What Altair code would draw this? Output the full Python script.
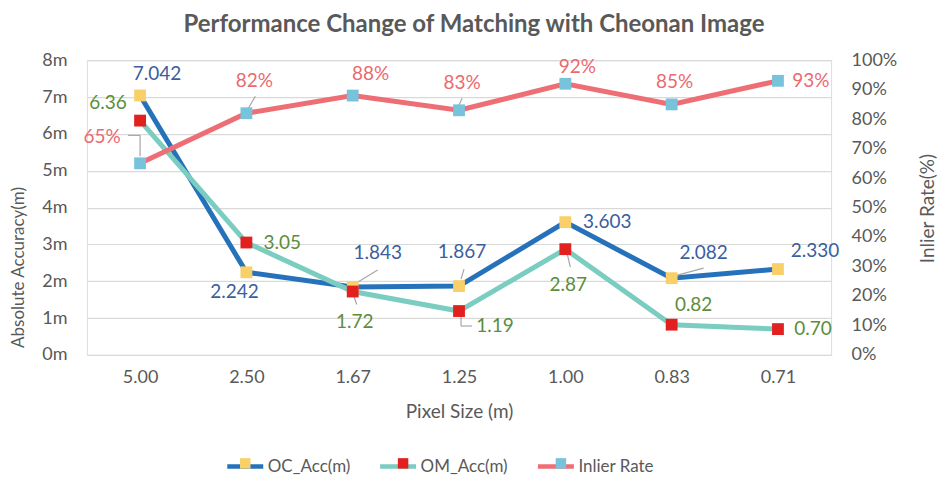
import altair as alt
import pandas as pd

# ---------------- data ----------------
categories = ["5.00", "2.50", "1.67", "1.25", "1.00", "0.83", "0.71"]
oc_acc = [7.042, 2.242, 1.843, 1.867, 3.603, 2.082, 2.330]
om_acc = [6.36, 3.05, 1.72, 1.19, 2.87, 0.82, 0.70]
inlier_rate = [65, 82, 88, 83, 92, 85, 93]
series_names = ["OC_Acc(m)", "OM_Acc(m)", "Inlier Rate"]
left_ticks = [0, 1, 2, 3, 4, 5, 6, 7, 8]
right_ticks = [0, 10, 20, 30, 40, 50, 60, 70, 80, 90, 100]

# ---------------- style ----------------
line_colors = ["#2672BA", "#7ACDC0", "#EE6E76"]
marker_colors = ["#F9CF68", "#E2201F", "#76C3DB"]
label_colors = ["#3A5EA0", "#5B8E3A", "#EA6A6F"]
FONT = "Lato"
GREY = "#595959"
LEADER = "#A6A6A6"

# data-label pixel offsets (dx, dy) per point
oc_off = [(17, -21), (-12, 20), (25, -34), (3, -34), (42, 0), (32, -25), (37, -18)]
om_off = [(-32, -18), (36, 0), (2, 31), (36, 15), (3, 36), (22, -20), (35, 0)]
in_off = [(-38, -26), (8, -32), (18, -22), (3, -27), (12, -17), (3, -22), (33, 0)]

# leader-line segments: (series index, point index, x1, y1, x2, y2) in px relative to the marker
leaders = [
    (2, 0, -12, -28, 0, -28), (2, 0, 0, -28, 0, -7),
    (2, 1, 2, -5, 9, -17),
    (0, 2, 2, -3, 25, -17),
    (1, 2, 1, 4, 4, 13),
    (0, 3, 2, -7, 5, -17),
    (1, 3, 2, 6, 2, 15), (1, 3, 2, 15, 13, 15),
    (2, 3, 0, -5, 3, -12),
    (1, 4, 2, 5, 5, 18),
    (0, 5, 2, -2, 32, -10),
]

acc = pd.DataFrame({
    "cat": categories * 2,
    "series": [series_names[0]] * 7 + [series_names[1]] * 7,
    "value": oc_acc + om_acc,
    "label": [f"{v:.3f}" for v in oc_acc] + [f"{v:.2f}" for v in om_acc],
    "idx": list(range(7)) * 2,
})
rate = pd.DataFrame({
    "cat": categories,
    "series": [series_names[2]] * 7,
    "value": inlier_rate,
    "label": [f"{v}%" for v in inlier_rate],
    "idx": list(range(7)),
})

W, H = 745, 295

x_enc = alt.X(
    "cat:N", sort=categories,
    scale=alt.Scale(type="point", padding=0.5),
    axis=alt.Axis(title="Pixel Size (m)", domain=False, ticks=False, grid=False,
                  labelFont=FONT, labelFontSize=18, labelColor=GREY, labelPadding=14,
                  labelAngle=0, titleFont=FONT, titleFontSize=19, titleColor=GREY,
                  titleFontWeight="normal", titleY=57, titleBaseline="middle"),
)

yl_scale = alt.Scale(domain=[0, 8], nice=False, zero=True)
yr_scale = alt.Scale(domain=[0, 100], nice=False, zero=True)

yl_axis = alt.Axis(title="Absolute Accuracy(m)", values=left_ticks, labelExpr="datum.value + 'm'",
                   domain=False, ticks=False, grid=True, gridColor="#D9D9D9", gridWidth=1.2,
                   labelFont=FONT, labelFontSize=18, labelColor=GREY, labelPadding=20,
                   titleFont=FONT, titleFontSize=17, titleColor=GREY, titleFontWeight="normal",
                   titleX=-68, titleY=207, titleAngle=270, titleAlign="center", titleBaseline="middle")
yr_axis = alt.Axis(title="Inlier Rate(%)", orient="right", values=right_ticks,
                   labelExpr="datum.value + '%'", domain=False, ticks=False, grid=False,
                   labelFont=FONT, labelFontSize=18, labelColor=GREY, labelPadding=20,
                   titleFont=FONT, titleFontSize=19, titleColor=GREY, titleFontWeight="normal",
                   titleX=96, titleY=148, titleAngle=270, titleAlign="center", titleBaseline="middle")

line_legend = alt.Legend(title=None, orient="none", legendX=138, legendY=386, direction="horizontal",
                         symbolType="stroke", symbolSize=1296, symbolStrokeWidth=4.5,
                         labelFont=FONT, labelFontSize=17, labelColor=GREY, labelOffset=2,
                         columnPadding=20, padding=0)
fill_legend = alt.Legend(title=None, orient="none", legendX=153, legendY=398, direction="horizontal",
                         symbolType="square", symbolSize=110, symbolStrokeWidth=0,
                         labelFontSize=1, labelOffset=0, labelExpr="''",
                         columnPadding=147, padding=0, symbolOpacity=1)

marker_domain = ["#" + s for s in series_names]
color_enc = alt.Color("series:N", scale=alt.Scale(domain=series_names, range=line_colors), legend=line_legend)
fill_enc = alt.Fill("marker:N", scale=alt.Scale(domain=marker_domain, range=marker_colors), legend=fill_legend)

left_lines = alt.Chart(acc).mark_line(strokeWidth=5).encode(
    x=x_enc, y=alt.Y("value:Q", scale=yl_scale, axis=yl_axis), color=color_enc, detail="series:N")
right_line = alt.Chart(rate).mark_line(strokeWidth=5).encode(
    x=x_enc, y=alt.Y("value:Q", scale=yr_scale, axis=yr_axis), color=color_enc)

layers = [left_lines, right_line]

# leader lines
for si, pi, x1, y1, x2, y2 in leaders:
    df = rate if si == 2 else acc
    sc = yr_scale if si == 2 else yl_scale
    layers.append(
        alt.Chart(df).transform_filter(
            (alt.datum.idx == pi) & (alt.datum.series == series_names[si])
        ).mark_rule(color=LEADER, strokeWidth=1.2, xOffset=x1, yOffset=y1,
                    x2Offset=x2, y2Offset=y2).encode(
            x=x_enc, x2=alt.X2("cat:N"),
            y=alt.Y("value:Q", scale=sc, axis=None), y2=alt.Y2("value:Q"))
    )

left_pts = alt.Chart(acc).transform_calculate(marker="'#' + datum.series").mark_square(
    size=140, opacity=1, strokeWidth=0).encode(
    x=x_enc, y=alt.Y("value:Q", scale=yl_scale, axis=None), fill=fill_enc)
right_pts = alt.Chart(rate).transform_calculate(marker="'#' + datum.series").mark_square(
    size=140, opacity=1, strokeWidth=0).encode(
    x=x_enc, y=alt.Y("value:Q", scale=yr_scale, axis=None), fill=fill_enc)

layers += [left_pts, right_pts]

def label_layers(df, sname, offsets, color, scale):
    out = []
    for i, (dx, dy) in enumerate(offsets):
        out.append(
            alt.Chart(df).transform_filter(
                (alt.datum.idx == i) & (alt.datum.series == sname)
            ).mark_text(dx=dx, dy=dy, font=FONT, fontSize=19, color=color,
                        align="center", baseline="middle").encode(
                x=x_enc, y=alt.Y("value:Q", scale=scale, axis=None), text="label:N")
        )
    return out

layers += label_layers(acc, series_names[0], oc_off, label_colors[0], yl_scale)
layers += label_layers(acc, series_names[1], om_off, label_colors[1], yl_scale)
layers += label_layers(rate, series_names[2], in_off, label_colors[2], yr_scale)

chart = alt.layer(*layers).resolve_scale(y="independent").properties(
    width=W, height=H,
    title=alt.TitleParams(text="Performance Change of Matching with Cheonan Image",
                          font=FONT, fontSize=24, fontWeight="bold", color=GREY,
                          anchor="middle", frame="group", dx=15, offset=14),
    autosize=alt.AutoSizeParams(type="none"),
    padding={"left": 79, "top": 52, "right": 112, "bottom": 121},
).configure_view(stroke=None).configure(background="white")

chart.save("out.html", embed_options={"renderer": "svg", "actions": False})
